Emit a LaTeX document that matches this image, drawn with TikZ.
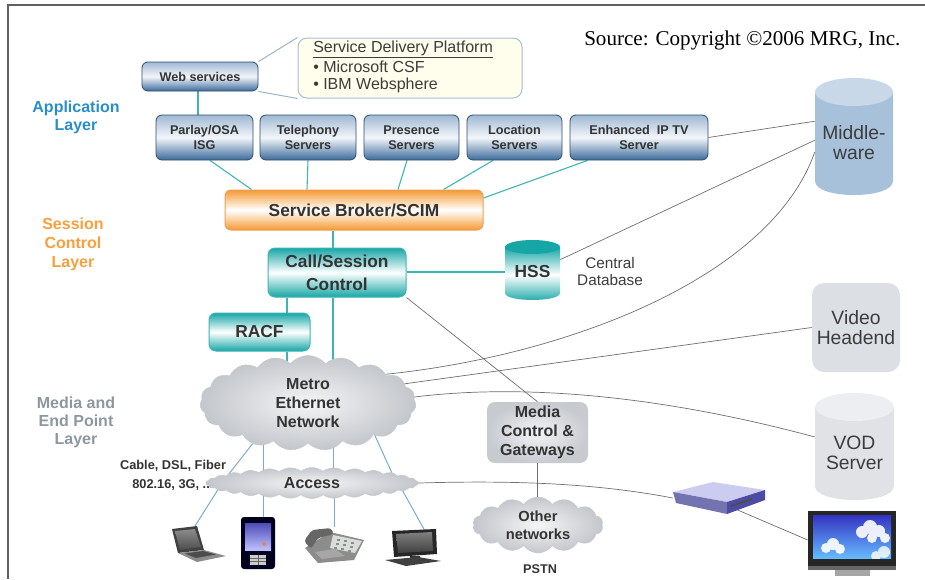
\documentclass[tikz,border=0pt]{standalone}
\usepackage{fontspec}
\setmainfont{Liberation Sans}
\newfontfamily\srcfont{Liberation Serif}
\usetikzlibrary{shapes.symbols,calc}
\newlength\pxu
\setlength\pxu{0.75pt}
\pgfdeclarelayer{bg}
\pgfsetlayers{bg,main}

\definecolor{framec}{HTML}{606060}
\definecolor{txt}{HTML}{333333}
\definecolor{txtg}{HTML}{3C3C3C}
\definecolor{wirec}{HTML}{6E6E6E}
\definecolor{tealw}{HTML}{3DB5B5}
\definecolor{bluew}{HTML}{7FA9CF}
\definecolor{boxtop}{HTML}{9FB8D3}
\definecolor{boxmid}{HTML}{F3F6FA}
\definecolor{boxbot}{HTML}{3D6B9B}
\definecolor{boxedge}{HTML}{2E4D6E}
\definecolor{tealc}{HTML}{17A6A6}
\definecolor{tealedge}{HTML}{3DB3B3}
\definecolor{orangec}{HTML}{F59A33}
\definecolor{orangeedge}{HTML}{E9A05A}
\definecolor{applblue}{HTML}{2A8DCB}
\definecolor{sessorange}{HTML}{F7A03C}
\definecolor{mediagray}{HTML}{8D979F}
\definecolor{sdpfill}{HTML}{FFFDEB}
\definecolor{sdpedge}{HTML}{A9BDD1}
\definecolor{calloutc}{HTML}{9DB3C8}
\definecolor{cloudin}{HTML}{F4F5F6}
\definecolor{cloudout}{HTML}{C3C6CB}
\definecolor{cloudedge}{HTML}{C6C9CE}
\definecolor{mwbody}{HTML}{A8C1DB}
\definecolor{mwtop}{HTML}{C8D8E8}
\definecolor{vhfill}{HTML}{DCDFE4}
\definecolor{vodbody}{HTML}{E0E2E6}
\definecolor{vodtop}{HTML}{EDEEF1}
\definecolor{medin}{HTML}{F3F4F5}
\definecolor{medout}{HTML}{C7CACF}

\tikzset{
  wire/.style={draw=wirec, line width=0.7\pxu},
  twire/.style={draw=tealw, line width=1.1\pxu},
  bwire/.style={draw=bluew, line width=1\pxu},
  srv/.style={rectangle, rounded corners=6\pxu, draw=boxedge, line width=0.8\pxu,
    top color=boxtop, bottom color=boxbot, middle color=boxmid, text=txt,
    align=center, inner sep=0pt, font=\bfseries\fontsize{9.5}{11.25}\selectfont},
  tealbox/.style={rectangle, rounded corners=7\pxu, draw=tealedge, line width=1\pxu,
    top color=tealc, bottom color=tealc, middle color=white, text=txt,
    align=center, inner sep=0pt, font=\bfseries\fontsize{13}{17}\selectfont},
  sbbox/.style={rectangle, rounded corners=6\pxu, draw=orangeedge, line width=1\pxu,
    top color=orangec, bottom color=orangec, middle color=white, text=txt,
    align=center, inner sep=0pt, font=\bfseries\fontsize{13}{15}\selectfont},
  greybox/.style={rectangle, rounded corners=12\pxu, fill=vhfill, text=txtg,
    align=center, inner sep=0pt, font=\fontsize{14.5}{15}\selectfont},
  cloudnode/.style={cloud, cloud ignores aspect, draw=cloudedge, line width=0.5\pxu,
    inner color=cloudin, outer color=cloudout, inner sep=0pt, text=txt,
    align=center, font=\bfseries\fontsize{12}{14}\selectfont},
  layerlbl/.style={align=center, inner sep=0pt, font=\bfseries\fontsize{12}{13.5}\selectfont},
  lbl/.style={inner sep=0pt, text=txt, align=center},
  cyllbl/.style={inner sep=0pt, text=txtg, align=center, font=\fontsize{14.5}{15}\selectfont}
}

\begin{document}
\begin{tikzpicture}[x=0.75pt, y=-0.75pt]
\useasboundingbox (0,0) rectangle (925,579);

% frame
\draw[framec, line width=1.5\pxu] (8,579) -- (8,5) -- (925,5);

% source line
\node[inner sep=0pt, anchor=west, text=black, font=\srcfont\fontsize{15.8}{19}\selectfont]
  (src) at (584,40) {Source: Copyright ©2006 MRG, Inc.};

% layer labels
\node[layerlbl, text=applblue] (lapp) at (76,117) {Application\\Layer};
\node[layerlbl, text=sessorange, font=\bfseries\fontsize{12}{14.25}\selectfont]
  (lses) at (73,244) {Session\\Control\\Layer};
\node[layerlbl, text=mediagray, font=\bfseries\fontsize{12}{13.5}\selectfont]
  (lmed) at (76,422) {Media and\\End Point\\Layer};

% service delivery platform callout
\node[rectangle, rounded corners=9\pxu, draw=sdpedge, line width=1\pxu, fill=sdpfill,
  minimum width=224\pxu, minimum height=60\pxu] (sdp) at (410,68) {};
\node[inner sep=0pt, anchor=base west, text=txtg, font=\fontsize{12}{14}\selectfont]
  (sdpt) at (313,52) {\underline{Service Delivery Platform}};
\node[inner sep=0pt, anchor=base west, text=txtg, font=\fontsize{12}{14}\selectfont]
  (sdpa) at (313,72) {• Microsoft CSF};
\node[inner sep=0pt, anchor=base west, text=txtg, font=\fontsize{12}{14}\selectfont]
  (sdpb) at (313,89) {• IBM Websphere};

% application layer boxes
\node[srv, minimum width=116\pxu, minimum height=29\pxu] (web) at (200,76.5) {Web services};
\node[srv, minimum width=97\pxu, minimum height=45\pxu] (parlay) at (204.5,137.5) {Parlay/OSA\\ISG};
\node[srv, minimum width=96\pxu, minimum height=45\pxu] (tel) at (308,137.5) {Telephony\\Servers};
\node[srv, minimum width=95\pxu, minimum height=45\pxu] (pres) at (411.5,137.5) {Presence\\Servers};
\node[srv, minimum width=95\pxu, minimum height=45\pxu] (loc) at (514.5,137.5) {Location\\Servers};
\node[srv, minimum width=138\pxu, minimum height=45\pxu] (iptv) at (639,137.5) {Enhanced~~IP TV\\Server};

% session control boxes
\node[sbbox, minimum width=258\pxu, minimum height=40\pxu] (sb) at (354,210) {Service Broker/SCIM};
\node[tealbox, minimum width=138\pxu, minimum height=49\pxu] (csc) at (337,272.5) {Call/Session\\Control};
\node[tealbox, minimum width=101\pxu, minimum height=38\pxu] (racf) at (259.5,332) {RACF};

% HSS cylinder
\shade[top color=tealc, bottom color=tealc, middle color=white]
  (505,247) -- (505,293) .. controls (505,302.3) and (560,302.3) .. (560,293) -- (560,247) -- cycle;
\fill[tealc] (532.5,247) ellipse [x radius=27.5\pxu, y radius=7\pxu];
\node[inner sep=0pt, text=txt, font=\bfseries\fontsize{13}{15}\selectfont,
  minimum width=55\pxu, minimum height=60\pxu] (hss) at (532.5,272) {HSS};
\node[lbl, text=txtg, font=\fontsize{11.5}{12.75}\selectfont] (cdb) at (610,271.5) {Central\\Database};

% middleware cylinder
\fill[mwbody] (815,92) -- (815,181) .. controls (815,199.7) and (893,199.7) .. (893,181) -- (893,92) -- cycle;
\fill[mwtop] (854,92) ellipse [x radius=39\pxu, y radius=14\pxu];
\node[cyllbl, minimum width=78\pxu, minimum height=117\pxu] (mw) at (854,143) {Middle-\\ware};

% video headend
\node[greybox, minimum width=88\pxu, minimum height=89\pxu] (vh) at (856,327.5) {Video\\Headend};

% VOD server cylinder
\fill[vodbody] (815,407) -- (815,486) .. controls (815,504.7) and (894,504.7) .. (894,486) -- (894,407) -- cycle;
\fill[vodtop] (854.5,407) ellipse [x radius=39.5\pxu, y radius=14\pxu];
\node[cyllbl, minimum width=79\pxu, minimum height=107\pxu] (vod) at (854.5,453) {VOD\\Server};

% media layer
\node[cloudnode, cloud puffs=19, cloud puff arc=100, minimum width=216\pxu, minimum height=95\pxu]
  (metro) at (308,403) {Metro\\Ethernet\\Network};
\node[lbl, font=\bfseries\fontsize{9.6}{11}\selectfont] (cab1) at (173,466) {Cable, DSL, Fiber};
\node[lbl, anchor=west, font=\bfseries\fontsize{9.6}{11}\selectfont] (cab2) at (132,485) {802.16, 3G, ...};
\node[cloudnode, cloud puffs=30, cloud puff arc=75, minimum width=212\pxu, minimum height=31\pxu]
  (access) at (312,483) {Access};
\node[rectangle, rounded corners=8\pxu, inner color=medin, outer color=medout, text=txt,
  align=center, inner sep=0pt, font=\bfseries\fontsize{12}{14}\selectfont,
  minimum width=101\pxu, minimum height=61\pxu] (media) at (537.5,432.5) {Media\\Control \&\\Gateways};
\node[cloudnode, cloud puffs=14, cloud puff arc=110, minimum width=130\pxu, minimum height=56\pxu,
  font=\bfseries\fontsize{11}{13.5}\selectfont] (other) at (538,525) {Other\\networks};
\node[lbl, font=\bfseries\fontsize{9.5}{11}\selectfont] (pstn) at (540,569) {PSTN};

% end devices
\coordinate (laptop) at (195,526);
\coordinate (pda) at (263,518);
\coordinate (phone) at (334,527);
\coordinate (pc) at (425,531);
% laptop
\fill[black!75] (172,529) -- (197,526) -- (204,550) -- (178,553) -- cycle;
\shade[top color=black!45, bottom color=black!70] (175,531) -- (195,529) -- (201,547) -- (180,550) -- cycle;
\fill[black!45] (178,553) -- (204,550) -- (226,556) -- (197,562) -- cycle;
\fill[black!70] (185,553.5) -- (203,551) -- (216,554.5) -- (196,558) -- cycle;
% pda
\fill[black!80!blue!60!black, rounded corners=3\pxu] (241,517) rectangle (275,569);
\shade[top color=blue!60!black!70!white, bottom color=blue!25!white] (245,523) rectangle (271,550);
\fill[orange] (264,544) circle [radius=1.8\pxu];
\fill[black!20] (250,555) rectangle (266,565);
\draw[black!60, line width=0.5\pxu] (250,558) -- (266,558) (250,561.5) -- (266,561.5) (258,555) -- (258,565);
% desk phone
\fill[black!45] (305,548) -- (330,532) -- (364,540) -- (354,560) -- (318,563) -- cycle;
\fill[green!10!black!15] (333,535) -- (362,541) -- (355,553) -- (330,548) -- cycle;
\foreach \i in {0,1,2} \foreach \j in {0,1,2}
  \fill[black!45] (337+7*\i-1.5*\j,539+1.3*\i+4*\j) rectangle ++(3,2);
\fill[black!60, rounded corners=3\pxu] (304,541) -- (312,530) -- (331,528) -- (334,534) -- (318,538) -- (311,549) -- cycle;
\fill[black!35] (315,552) -- (335,549) -- (345,556) -- (322,559) -- cycle;
% desktop computer
\fill[black!85] (392,531) -- (436,529) -- (437,554) -- (394,557) -- cycle;
\shade[top color=black!50, bottom color=black!75] (396,534) -- (432,532) -- (433,551) -- (398,553) -- cycle;
\fill[black!80] (410,556) rectangle (420,559);
\fill[black!75] (385,560) -- (418,557) -- (441,561) -- (406,566) -- cycle;

% set-top box
\node[inner sep=0pt, minimum width=92\pxu, minimum height=34\pxu] (stb) at (719,498) {};
\fill[black!30!blue!20!white] (673,492) -- (713,482) -- (765,490) -- (727,502) -- cycle;
\fill[blue!45!black!55] (673,492) -- (727,502) -- (727,514) -- (676,503) -- cycle;
\fill[blue!50!black!70] (727,502) -- (765,490) -- (765,500) -- (727,514) -- cycle;
\fill[black!70] (731,505) -- (752,498) -- (752,500) -- (731,507) -- cycle;

% flat-screen TV
\node[inner sep=0pt, minimum width=88\pxu, minimum height=60\pxu] (tv) at (852,540) {};
\fill[black!85] (808,511) rectangle (896,566);
\shade[top color=blue!70!black!80!white, bottom color=blue!45!cyan!60!white] (813,515) rectangle (891,558);
\begin{scope}
  \clip (813,515) rectangle (891,558);
  \fill[white, opacity=0.9] (826,548) circle [radius=5\pxu] (833,544) circle [radius=6\pxu] (840,549) circle [radius=5\pxu];
  \fill[white, opacity=0.9] (862,532) circle [radius=6\pxu] (870,527) circle [radius=7\pxu] (879,531) circle [radius=6\pxu] (885,538) circle [radius=5\pxu] (872,538) circle [radius=5\pxu];
  \fill[white, opacity=0.8] (884,552) circle [radius=6\pxu] (876,556) circle [radius=5\pxu];
\end{scope}
\fill[black!60] (808,566) rectangle (896,570);
\fill[black!35] (835,570) rectangle (870,576);

% connectors
\begin{pgfonlayer}{bg}
  % application layer
  \draw[calloutc, line width=1\pxu] (web.north east) -- (sdp.north west);
  \draw[calloutc, line width=1\pxu] (web.south east) -- (sdp.south west);
  \draw[twire] ($(web.south)+(-2,0)$) -- ($(web.south |- parlay.north)+(-2,0)$);
  \draw[twire] ($(parlay.south)+(5.5,0)$) -- ($(sb.north west)+(27,0)$);
  \draw[twire] (tel.south) -- ($(sb.north)+(-47,0)$);
  \draw[twire] ($(pres.south)+(-4.5,0)$) -- ($(sb.north)+(44,0)$);
  \draw[twire] ($(loc.south)+(-21.5,0)$) -- ($(sb.north east)+(-40,0)$);
  \draw[twire] ($(iptv.south west)+(18,0)$) -- ($(sb.east)+(0,-12)$);
  % session control layer
  \draw[twire] ($(csc.north)+(-4,0)$) -- ($(csc.north |- sb.south)+(-4,0)$);
  \draw[twire] ($(csc.south)+(-4,0)$) -- ($(csc.south |- metro.center)+(-4,0)$);
  \draw[twire] ($(racf.north)+(27.5,0)$) -- ($(racf.north |- csc.south)+(27.5,0)$);
  \draw[twire] ($(racf.south)+(27.5,0)$) -- ($(racf.south |- metro.center)+(27.5,0)$);
  \draw[twire] (csc.east |- hss.west) -- (hss.west);
  % long gray links
  \draw[wire] (iptv.east) -- (mw.151);
  \draw[wire] (hss.24) -- (mw.176);
  \draw[wire] ($(metro.center)+(70,-28)$) .. controls (560,358) and (770,280) .. (mw.193);
  \draw[wire] ($(metro.center)+(88,-18)$) -- (vh.west);
  \draw[wire] ($(metro.center)+(92,-4)$) .. controls (500,384) and (640,390) .. (vod.158);
  \draw[wire] (csc.south east) -- (media.north);
  \draw[wire] (media.south) -- (media.south |- other.center);
  \draw[wire] (access.center) -- (access.east) .. controls (520,480) and (600,484) .. (stb.west);
  \draw[wire] ($(stb.center)+(14,10)$) -- (tv.west);
  % metro to access
  \draw[bwire] (257,438) -- (225,479);
  \draw[bwire] (263,438) -- (263,478);
  \draw[bwire] (333,440) -- (333,478);
  \draw[bwire] (372,429) -- (396,482);
  % access to devices
  \draw[bwire] (219,488) -- (laptop);
  \draw[bwire] (263,490) -- (pda);
  \draw[bwire] (334,490) -- (phone);
  \draw[bwire] (400,486) -- (pc);
\end{pgfonlayer}
\end{tikzpicture}
\end{document}
